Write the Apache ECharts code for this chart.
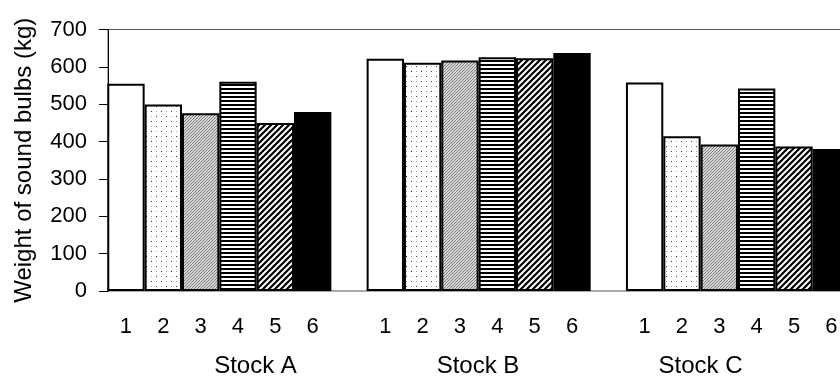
<!DOCTYPE html>
<html>
<head>
<meta charset="utf-8">
<script src="https://cdn.jsdelivr.net/npm/echarts@6/dist/echarts.min.js"></script>
<style>
html,body{margin:0;padding:0;background:#fff;}
#chart{width:840px;height:379px;}
</style>
</head>
<body>
<div id="chart"></div>
<script>
// ---- data ----
const stocks = ['Stock A', 'Stock B', 'Stock C'];
const treatments = ['1', '2', '3', '4', '5', '6'];
const stockA = [555, 499, 476, 560, 450, 479];
const stockB = [622, 611, 617, 626, 623, 637];
const stockC = [558, 414, 392, 542, 387, 380];
const yTicks = [0, 100, 200, 300, 400, 500, 600, 700];
const yTitle = 'Weight of sound bulbs (kg)';

// ---- pattern fills (style only) ----
function tile(size, draw) {
  const c = document.createElement('canvas');
  c.width = size; c.height = size;
  const ctx = c.getContext('2d');
  ctx.fillStyle = '#fff';
  ctx.fillRect(0, 0, size, size);
  draw(ctx, size);
  return c;
}
function diag(ctx, s, color, w) {
  ctx.strokeStyle = color; ctx.lineWidth = w; ctx.lineCap = 'square';
  ctx.beginPath();
  ctx.moveTo(0, s); ctx.lineTo(s, 0);
  ctx.moveTo(-s / 2, s / 2); ctx.lineTo(s / 2, -s / 2);
  ctx.moveTo(s / 2, s + s / 2); ctx.lineTo(s + s / 2, s / 2);
  ctx.stroke();
}
const fills = [
  '#ffffff',
  { image: tile(10, (ctx) => {
      ctx.fillStyle = '#333'; ctx.fillRect(1, 1, 1, 1); ctx.fillRect(6, 6, 1, 1);
      ctx.fillStyle = '#aaa'; ctx.fillRect(6, 1, 1, 1); ctx.fillRect(1, 6, 1, 1);
    }), repeat: 'repeat' },
  { image: tile(3, (ctx, s) => diag(ctx, s, '#777', 1.1)), repeat: 'repeat' },
  { image: tile(4, (ctx) => { ctx.fillStyle = '#000'; ctx.fillRect(0, 0, 4, 2); }), repeat: 'repeat' },
  { image: tile(6, (ctx, s) => diag(ctx, s, '#000', 2.2)), repeat: 'repeat' },
  '#000000'
];

const font = 'Liberation Sans, Arial, sans-serif';
const gridTop = 29.5, gridH = 261.5;

const series = treatments.map((t, i) => ({
  name: t,
  type: 'bar',
  xAxisIndex: 0,
  yAxisIndex: 0,
  data: [stockA[i], stockB[i], stockC[i]],
  barGap: '0%',
  barCategoryGap: '13.6%',
  itemStyle: { color: fills[i], borderColor: '#000', borderWidth: 2 },
  label: {
    show: true, position: 'bottom', distance: 25,
    formatter: t, color: '#000', fontSize: 22, fontFamily: font
  },
  emphasis: { disabled: true },
  animation: false
}));

const chart = echarts.init(document.getElementById('chart'), null, { renderer: 'canvas' });
chart.setOption({
  animation: false,
  backgroundColor: '#fff',
  grid: [
    { left: 89.65, top: gridTop, width: 778, height: gridH, outerBoundsMode: 'none', containLabel: false },
    { left: 108, top: gridTop, width: 760, height: gridH, outerBoundsMode: 'none', containLabel: false,
      show: true, borderColor: '#555', borderWidth: 1, backgroundColor: 'transparent' },
    { left: 144.25, top: gridTop, width: 667.5, height: gridH, outerBoundsMode: 'none', containLabel: false }
  ],
  xAxis: [
    { gridIndex: 0, type: 'category', data: stocks, axisLine: { show: false }, axisTick: { show: false }, axisLabel: { show: false } },
    { gridIndex: 1, type: 'value', show: false },
    { gridIndex: 2, type: 'category', data: stocks, axisLine: { show: false }, axisTick: { show: false },
      axisLabel: { color: '#000', fontSize: 24, fontFamily: font, margin: 63 } }
  ],
  yAxis: [
    { gridIndex: 0, type: 'value', min: yTicks[0], max: yTicks[yTicks.length - 1], interval: 100, show: false },
    { gridIndex: 1, type: 'value', min: yTicks[0], max: yTicks[yTicks.length - 1], interval: 100,
      axisLine: { show: true, lineStyle: { color: '#000', width: 1 } },
      axisTick: { show: true, length: 9, lineStyle: { color: '#000' } },
      axisLabel: { color: '#000', fontSize: 22, fontFamily: font, margin: 21 },
      splitLine: { show: false },
      name: yTitle, nameLocation: 'middle', nameGap: 72,
      nameTextStyle: { color: '#000', fontSize: 24, fontFamily: font } },
    { gridIndex: 2, type: 'value', min: 0, max: 700, show: false }
  ],
  series: series
});
</script>
</body>
</html>
